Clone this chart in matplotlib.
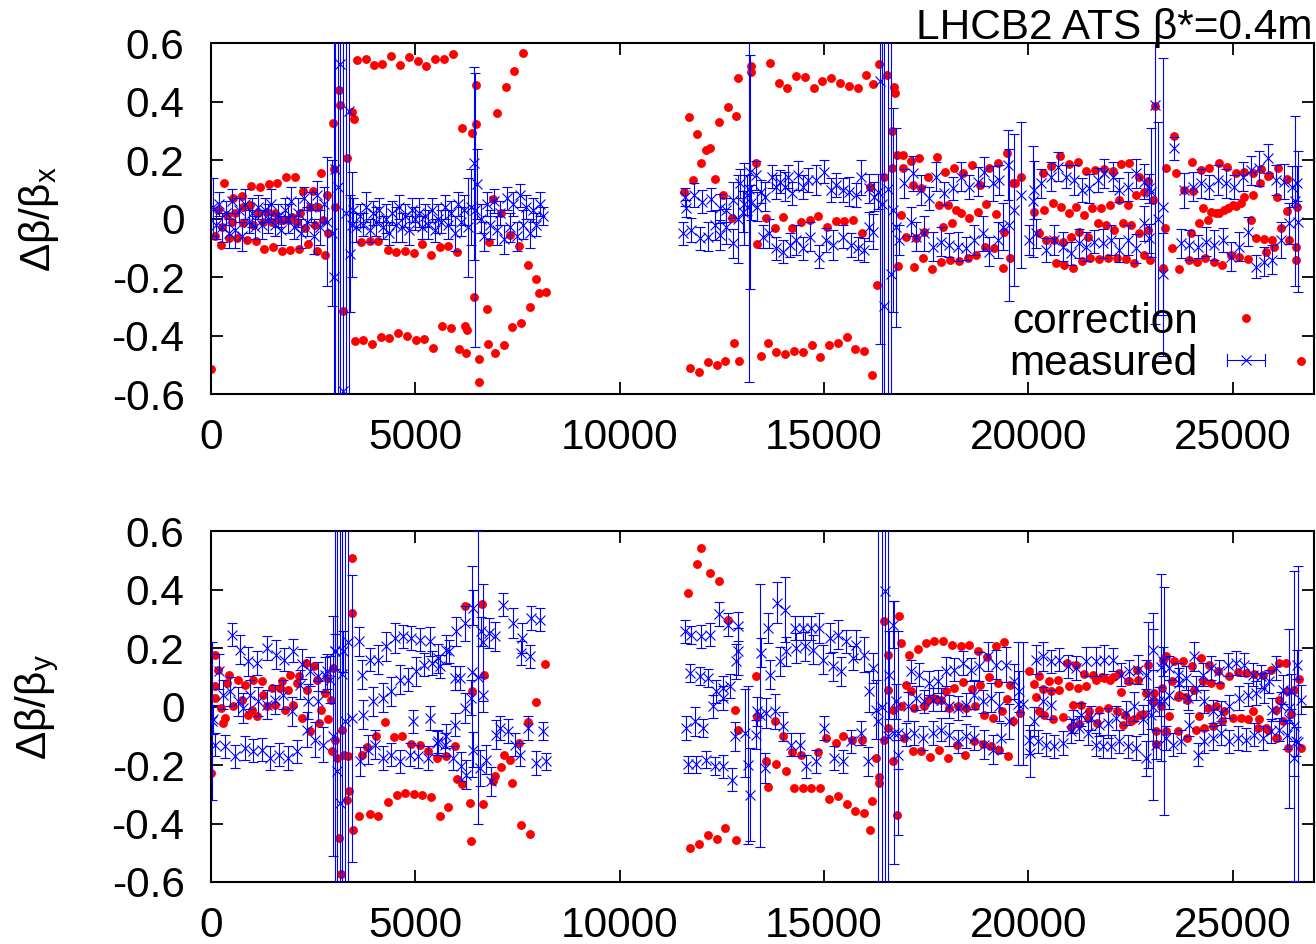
import numpy as np
import matplotlib
matplotlib.use('Agg')
import matplotlib.pyplot as plt
from matplotlib.lines import Line2D
from matplotlib.legend_handler import HandlerBase
from matplotlib.ticker import FuncFormatter

plt.rcParams['font.family'] = ['Liberation Sans', 'DejaVu Sans']
plt.rcParams['mathtext.default'] = 'regular'

# ---------------- horizontal plane: correction (x [m], dbeta/beta) ----------------
top_corr_arc1 = np.array([
    [0, -0.514],
    [326, 0.121], [546, 0.070], [766, 0.078], [978, 0.113], [1198, 0.109], [1410, 0.117],
    [1622, 0.123], [1834, 0.141], [2054, 0.141], [2258, 0.096], [2486, 0.096], [2690, 0.157],
    [98, -0.059], [236, -0.090], [448, -0.067], [628, -0.067], [872, -0.073], [1092, -0.075],
    [1304, -0.104], [1516, -0.098], [1728, -0.109], [1940, -0.108], [2152, -0.104], [2372, -0.087],
    [2584, -0.109], [2795, -0.124],
    [179, 0.030], [383, 0.013], [587, 0.018], [791, 0.041], [954, 0.047], [1157, 0.018],
    [1361, 0.024], [1565, 0.018], [1769, -0.005], [1972, 0.007], [2176, 0.018], [2421, 0.041],
    [2624, 0.041], [2828, 0.081], [3032, 0.041],
    [261, -0.027], [505, -0.010], [791, -0.016], [1035, -0.022], [1280, -0.010], [1483, -0.010],
    [1687, -0.005], [1891, -0.005], [2095, -0.010], [2298, -0.033], [2543, -0.022], [2747, -0.005],
    [2853, -0.050],
    [2991, 0.328], [3138, 0.440], [3154, 0.389], [3007, 0.170], [3317, 0.206], [3439, 0.366],
    [3496, 0.341], [3236, -0.315],
])
top_corr_arc2 = np.array([
    [3562, 0.543], [3782, 0.545], [3985, 0.526], [4197, 0.529], [4417, 0.556], [4629, 0.526],
    [4849, 0.554], [5061, 0.540], [5273, 0.523], [5493, 0.548], [5705, 0.548], [5925, 0.562],
    [3521, -0.417], [3725, -0.415], [3945, -0.429], [4157, -0.404], [4368, -0.409], [4580, -0.392],
    [4792, -0.401], [5012, -0.415], [5224, -0.413], [5444, -0.444], [5656, -0.367], [5868, -0.375],
    [6080, -0.447], [6251, -0.461], [6210, -0.367], [6276, -0.381],
    [3668, -0.079], [3888, -0.076], [4099, -0.075], [4320, -0.107], [4531, -0.113], [4743, -0.111],
    [4963, -0.119], [5175, -0.087], [5387, -0.124], [5599, -0.098], [5811, -0.094], [6023, -0.115],
    [6137, 0.309], [6398, 0.294], [6479, 0.324], [6496, 0.457], [7009, 0.360], [7213, 0.452],
    [7425, 0.506], [7637, 0.568], [6447, -0.268], [6756, -0.308], [6553, -0.481], [6553, -0.558],
    [6781, -0.429], [6952, -0.461], [7164, -0.433], [7376, -0.372], [7596, -0.356], [7800, -0.301],
    [8020, -0.253], [8191, -0.250], [7963, -0.208], [7759, -0.160], [6903, 0.066], [7107, 0.018],
    [7327, -0.056], [7531, -0.092], [6805, -0.081],
])
top_corr_arc3 = np.array([
    [11565, 0.092], [11688, 0.349], [11785, 0.132], [11899, 0.290], [11997, 0.189], [12103, 0.235],
    [12217, 0.241], [12323, 0.135], [12429, 0.330], [12535, 0.081], [12641, 0.381], [12747, 0.001],
    [12837, 0.352], [12886, 0.480], [13220, 0.522], [13220, 0.503], [13326, 0.189], [13358, -0.088],
    [13570, 0.001], [13668, 0.531], [13790, -0.033], [13888, 0.463], [14002, 0.007], [14100, 0.446],
    [14214, -0.033], [14320, 0.488], [14426, -0.010], [14532, 0.486], [14646, -0.005], [14744, 0.446],
    [14858, 0.010], [14956, 0.471], [15070, -0.030], [15176, 0.480], [15282, -0.008], [15388, 0.465],
    [15494, -0.008], [15600, 0.455], [15705, -0.005], [15820, 0.446], [15925, -0.048], [16032, 0.491],
    [16137, 0.109], [16211, 0.460], [16292, -0.227], [16349, 0.529], [16472, 0.144], [16553, 0.491],
    [16667, 0.301], [16724, 0.452], [16749, 0.429], [16789, 0.218], [16659, 0.172], [16822, -0.161],
    [11728, -0.512], [11940, -0.523], [12160, -0.489], [12372, -0.501], [12584, -0.486], [12804, -0.426],
    [12918, -0.487], [13448, -0.470], [13627, -0.426], [13831, -0.455], [14051, -0.464], [14263, -0.452],
    [14475, -0.457], [14695, -0.432], [14907, -0.475], [15119, -0.432], [15339, -0.424], [15551, -0.404],
    [15763, -0.447], [15974, -0.453], [16170, -0.535],
])
top_corr_arc4 = np.array([
    [16927, 0.218], [16927, 0.172], [17131, 0.198], [17335, 0.206], [17759, 0.212], [17971, 0.161],
    [18191, 0.172], [18395, 0.155], [18614, 0.184], [18826, 0.115], [19046, 0.172], [19258, 0.192],
    [19470, 0.226], [19682, 0.121], [19821, 0.141],
    [17172, 0.115], [17376, 0.104], [17539, 0.144], [17824, 0.047], [18028, 0.047], [18232, 0.030],
    [18354, 0.018], [18557, 0.001], [18761, 0.024], [18965, 0.050], [19209, 0.016], [19413, -0.044],
    [19617, 0.121],
    [17009, -0.062], [17213, -0.164], [17433, -0.136], [17645, -0.173], [17865, -0.147], [18085, -0.141],
    [18297, -0.144], [18517, -0.136], [18720, -0.124], [18941, -0.096], [19168, -0.101], [19372, -0.170],
    [19560, -0.136], [18134, -0.014], [17905, -0.027], [17457, -0.044], [17254, -0.067], [16887, 0.013],
    [20350, 0.155], [20554, 0.180], [20774, 0.214], [20986, 0.187], [21206, 0.195], [21410, 0.164],
    [21630, 0.166], [21842, 0.169], [22062, 0.164], [22266, 0.187], [22470, 0.192], [22698, 0.144],
    [22918, 0.130],
    [20147, 0.024], [20391, 0.030], [20595, 0.055], [20799, 0.041], [21003, 0.018], [21166, 0.041],
    [21369, 0.013], [21557, 0.035], [21777, 0.035], [21997, 0.047], [22209, 0.064], [22429, 0.047],
    [22633, 0.081], [22836, 0.092], [23040, 0.064],
    [20269, -0.050], [20432, -0.073], [20636, -0.073], [20839, -0.079], [21043, -0.062], [21247, -0.044],
    [21451, -0.062], [21695, -0.016], [21899, -0.022], [22103, -0.039], [22306, -0.016], [22510, -0.022],
    [22714, -0.050], [22918, -0.039],
    [20676, -0.153], [20880, -0.158], [21084, -0.168], [21312, -0.144], [21516, -0.136], [21736, -0.139],
    [21940, -0.136], [22168, -0.136], [22388, -0.139], [22592, -0.151], [22820, -0.124], [22975, -0.141],
])
top_corr_arc5 = np.array([
    [23105, 0.385], [23285, -0.170], [23366, 0.172], [23333, -0.033], [23513, -0.101], [23570, 0.284],
    [23692, -0.173], [23610, 0.155],
    [24001, 0.195], [24222, 0.166], [24425, 0.172], [24654, 0.189], [24857, 0.178], [25078, 0.157],
    [25282, 0.161], [25485, 0.155], [25689, 0.169], [25893, 0.149], [26121, 0.172], [26325, 0.135],
    [23814, 0.098], [24018, 0.096], [24263, 0.035], [24466, 0.024], [24670, 0.018], [24874, 0.035],
    [25078, 0.043], [25282, 0.075], [25485, 0.081], [25665, 0.123], [25868, 0.146], [26096, 0.075],
    [26341, 0.027], [26585, 0.041],
    [23977, -0.050], [24181, -0.016], [24385, -0.005], [24589, 0.018], [24792, 0.030], [24996, 0.047],
    [25200, 0.052], [25444, -0.005], [25567, -0.067], [25770, -0.071], [25974, -0.073], [26178, -0.033],
    [26382, -0.073], [26545, -0.096],
    [23920, -0.141], [24124, -0.147], [24328, -0.136], [24531, -0.147], [24735, -0.158], [24955, -0.124],
    [25159, -0.132], [25387, -0.138], [25811, -0.113], [26015, -0.096], [26545, -0.141],
    [26667, -0.486],
])

# ---------------- horizontal plane: measured (x, dbeta/beta, error) ----------------
top_meas_arc1 = np.array([
    [40, 0.04, 0.10], [120, -0.02, 0.05], [200, 0.05, 0.04], [280, -0.03, 0.05], [360, 0.02, 0.04],
    [440, -0.05, 0.05], [520, 0.06, 0.04], [600, -0.04, 0.06], [680, 0.03, 0.04], [760, -0.06, 0.05],
    [840, 0.05, 0.05], [920, -0.01, 0.04], [1000, 0.02, 0.05], [1080, -0.03, 0.04], [1160, 0.04, 0.04],
    [1240, -0.02, 0.05], [1320, 0.03, 0.04], [1400, 0.00, 0.05], [1480, 0.05, 0.05], [1560, -0.02, 0.04],
    [1640, 0.01, 0.04], [1720, -0.04, 0.05], [1800, 0.03, 0.04], [1880, 0.00, 0.05], [1960, 0.06, 0.05],
    [2040, -0.03, 0.04], [2120, 0.02, 0.05], [2200, -0.05, 0.05], [2280, 0.07, 0.04], [2360, -0.01, 0.05],
    [2440, 0.04, 0.05], [2520, -0.06, 0.06], [2600, 0.08, 0.05], [2680, -0.03, 0.06], [2760, 0.05, 0.06],
    [2840, -0.01, 0.22],
    [2950, -0.05, 0.25], [3007, -0.20, 0.90], [3032, 0.17, 0.80], [3100, 0.11, 1.00], [3154, 0.53, 1.20],
    [3236, -0.59, 1.20], [3300, 0.02, 1.00], [3382, 0.37, 1.10], [3400, -0.12, 0.20], [3440, -0.02, 0.18],
])
top_meas_arc2 = np.array([
    [3480, 0.03, 0.04], [3560, -0.03, 0.05], [3640, 0.01, 0.04], [3720, -0.02, 0.04], [3800, 0.04, 0.05],
    [3880, -0.04, 0.04], [3960, 0.02, 0.04], [4040, -0.01, 0.05], [4120, 0.03, 0.04], [4200, -0.03, 0.04],
    [4280, 0.00, 0.05], [4360, -0.05, 0.04], [4440, 0.02, 0.04], [4520, -0.02, 0.06], [4600, 0.04, 0.04],
    [4680, -0.03, 0.05], [4760, 0.01, 0.04], [4840, -0.04, 0.05], [4920, 0.03, 0.04], [5000, 0.00, 0.04],
    [5080, 0.02, 0.05], [5160, -0.03, 0.04], [5240, 0.01, 0.04], [5320, -0.02, 0.05], [5400, 0.03, 0.04],
    [5480, -0.04, 0.04], [5560, 0.00, 0.05], [5640, -0.01, 0.04], [5720, 0.04, 0.04], [5800, -0.02, 0.05],
    [5880, 0.02, 0.04], [5960, -0.05, 0.06], [6040, 0.05, 0.04], [6120, -0.01, 0.05], [6200, 0.03, 0.05],
    [6280, -0.03, 0.17], [6360, 0.04, 0.13], [6440, 0.19, 0.33], [6470, 0.03, 0.47], [6520, 0.12, 0.12],
    [6600, 0.00, 0.05], [6680, -0.06, 0.05], [6760, 0.05, 0.04], [6840, -0.02, 0.05], [6920, 0.06, 0.04],
    [7000, -0.04, 0.05], [7080, 0.02, 0.04], [7160, -0.07, 0.05], [7240, 0.07, 0.04], [7320, -0.03, 0.05],
    [7400, 0.05, 0.04], [7480, -0.06, 0.05], [7560, 0.08, 0.04], [7640, -0.02, 0.05], [7720, 0.04, 0.04],
    [7800, -0.05, 0.05], [7880, 0.03, 0.04], [7960, -0.02, 0.04], [8040, 0.05, 0.04], [8120, 0.01, 0.03],
])
top_meas_arc3 = np.array([
    [11590, 0.075, 0.03], [11630, 0.035, 0.03], [11810, 0.081, 0.04], [12013, 0.058, 0.04],
    [12225, 0.066, 0.04], [12445, 0.035, 0.05], [12608, 0.030, 0.04], [12771, 0.064, 0.06],
    [12934, 0.121, 0.05], [13114, 0.081, 0.07], [13220, 0.055, 0.06], [13326, 0.149, 0.05],
    [13464, 0.092, 0.04], [13546, 0.075, 0.05], [13725, 0.144, 0.04], [13815, 0.109, 0.04],
    [13913, 0.127, 0.04], [14035, 0.109, 0.05], [14116, 0.144, 0.04], [14214, 0.087, 0.04],
    [14361, 0.149, 0.05], [14483, 0.109, 0.04], [14605, 0.132, 0.04], [14809, 0.132, 0.05],
    [14996, 0.161, 0.04], [15176, 0.098, 0.04], [15298, 0.115, 0.04], [15461, 0.098, 0.04],
    [15624, 0.092, 0.05], [15787, 0.081, 0.04], [15909, 0.141, 0.06], [16097, 0.104, 0.05],
    [16219, 0.075, 0.05], [16317, 0.092, 0.06],
    [11549, -0.050, 0.04], [11753, -0.039, 0.04], [11957, -0.067, 0.04], [12160, -0.062, 0.05],
    [12323, -0.022, 0.05], [12445, -0.056, 0.05], [12608, -0.027, 0.06], [12771, -0.084, 0.05],
    [12894, 0.000, 0.15], [13016, 0.024, 0.07], [13050, 0.050, 0.14], [13170, 0.100, 0.66],
    [13200, 0.160, 0.40], [13358, 0.041, 0.05], [13505, -0.062, 0.04], [13652, -0.050, 0.05],
    [13831, -0.101, 0.04], [13994, -0.113, 0.04], [14157, -0.090, 0.04], [14320, -0.073, 0.05],
    [14483, -0.101, 0.04], [14646, -0.062, 0.05], [14890, -0.130, 0.04], [15053, -0.073, 0.04],
    [15217, -0.090, 0.05], [15461, -0.062, 0.04], [15665, -0.090, 0.04], [15828, -0.101, 0.04],
    [15990, -0.107, 0.04], [16113, -0.027, 0.05], [16195, -0.044, 0.06],
    [16360, 0.47, 0.90], [16420, 0.05, 1.20], [16480, -0.30, 1.00], [16560, 0.10, 1.30],
    [16640, -0.19, 1.00], [16700, 0.03, 0.35], [16770, -0.03, 0.34],
])
top_meas_arc4 = np.array([
    [16968, 0.121, 0.05], [17172, 0.155, 0.06], [17376, 0.098, 0.05], [17580, 0.070, 0.04],
    [17743, 0.144, 0.05], [17946, 0.087, 0.04], [18150, 0.104, 0.04], [18354, 0.144, 0.05],
    [18557, 0.109, 0.04], [18761, 0.127, 0.05], [18924, 0.161, 0.05], [19128, 0.121, 0.06],
    [19291, 0.132, 0.05], [19495, 0.184, 0.12], [19658, 0.030, 0.26], [19821, 0.080, 0.25],
    [16846, -0.073, 0.05], [17131, -0.010, 0.05], [17254, -0.062, 0.05], [17457, -0.050, 0.06],
    [17661, -0.096, 0.05], [17865, -0.079, 0.05], [18069, -0.090, 0.04], [18272, -0.096, 0.05],
    [18476, -0.101, 0.04], [18680, -0.073, 0.05], [18883, -0.050, 0.06], [19046, -0.113, 0.05],
    [19250, -0.073, 0.06], [19372, -0.027, 0.08], [19535, -0.022, 0.26],
    [20147, 0.098, 0.10], [20310, 0.121, 0.05], [20554, 0.144, 0.05], [20717, 0.178, 0.05],
    [20921, 0.144, 0.04], [21125, 0.132, 0.05], [21312, 0.098, 0.04], [21491, 0.104, 0.05],
    [21695, 0.132, 0.04], [21858, 0.155, 0.05], [22062, 0.144, 0.05], [22225, 0.098, 0.04],
    [22429, 0.109, 0.05], [22633, 0.155, 0.05], [22836, 0.127, 0.06], [22958, 0.104, 0.05],
    [20025, -0.073, 0.05], [20120, 0.060, 0.19], [20188, -0.050, 0.05], [20432, -0.107, 0.04],
    [20636, -0.073, 0.05], [20839, -0.096, 0.05], [21043, -0.119, 0.04], [21247, -0.084, 0.05],
    [21410, -0.096, 0.05], [21614, -0.079, 0.04], [21818, -0.084, 0.05], [22021, -0.073, 0.05],
    [22225, -0.107, 0.04], [22429, -0.073, 0.05], [22633, -0.101, 0.05], [22836, -0.016, 0.06],
    [22958, -0.067, 0.05],
    [22990, 0.09, 0.22], [23105, 0.39, 0.75], [23170, 0.00, 0.33], [23285, -0.19, 0.14],
    [23300, 0.04, 0.51], [23570, 0.241, 0.04],
    [23814, 0.098, 0.06], [24018, 0.109, 0.05], [24222, 0.121, 0.05], [24425, 0.109, 0.04],
    [24629, 0.132, 0.05], [24833, 0.121, 0.05], [25037, 0.109, 0.04], [25241, 0.144, 0.05],
    [25444, 0.166, 0.05], [25648, 0.172, 0.06], [25852, 0.206, 0.05], [26056, 0.132, 0.05],
    [26259, 0.127, 0.06], [26463, 0.109, 0.07], [26585, 0.121, 0.06],
    [23733, -0.084, 0.05], [23936, -0.090, 0.05], [24140, -0.096, 0.04], [24344, -0.079, 0.05],
    [24548, -0.090, 0.05], [24752, -0.073, 0.04], [24955, -0.130, 0.05], [25159, -0.096, 0.05],
    [25363, -0.044, 0.05], [25567, -0.164, 0.04], [25770, -0.147, 0.05], [25974, -0.141, 0.05],
    [26178, -0.073, 0.06], [26382, -0.016, 0.07], [26520, 0.060, 0.29], [26600, -0.010, 0.24],
])

# ---------------- vertical plane: correction ----------------
bot_corr_arc1 = np.array([
    [0, -0.227], [98, 0.178], [179, 0.127], [98, 0.070], [98, 0.030], [236, -0.005], [302, -0.056],
    [342, -0.039], [448, 0.109], [383, 0.081], [546, 0.001], [668, 0.092], [750, 0.024], [831, 0.075],
    [912, -0.027], [994, -0.010], [1035, 0.092], [1133, -0.033], [1239, 0.087], [1280, 0.041],
    [1361, 0.001], [1483, 0.064], [1565, 0.007], [1687, 0.064], [1728, 0.087], [1809, -0.010],
    [1891, 0.058], [1932, 0.109], [2013, 0.007], [2095, 0.081], [2152, 0.104], [2217, -0.039],
    [2323, 0.149], [2356, 0.058], [2421, -0.084], [2527, 0.138], [2584, 0.092], [2641, -0.056],
    [2690, -0.010], [2787, 0.047], [2828, 0.098], [2869, -0.044], [2926, 0.024], [2991, 0.132],
    [3032, -0.113], [2950, -0.153], [3089, -0.176], [3138, -0.449], [3171, -0.571], [3211, -0.079],
    [3252, -0.164], [3358, -0.170], [3382, -0.290], [3333, -0.318], [3439, 0.509], [3439, 0.320],
    [3480, -0.421],
    [3627, -0.375], [3888, -0.366], [4099, -0.375], [4320, -0.327], [4540, -0.303], [4743, -0.295],
    [4963, -0.298], [5175, -0.304], [5379, -0.309], [5599, -0.375], [5811, -0.343], [6373, -0.461],
    [6349, -0.330], [6659, -0.333], [7596, -0.404], [7800, -0.436],
    [3684, -0.164], [3830, -0.139], [4050, -0.101], [4254, -0.052], [4474, -0.104], [4686, -0.101],
    [4906, -0.127], [5110, -0.130], [5314, -0.151], [5534, -0.176], [5762, -0.168], [5974, -0.133],
    [6023, -0.246], [6153, -0.265], [6397, 0.055], [6683, 0.107], [6210, 0.343], [6643, 0.351],
    [6903, -0.255], [6944, -0.238], [7107, -0.208], [7164, -0.164], [7311, -0.181], [7376, -0.261],
    [7539, -0.124], [7759, -0.052], [7963, 0.016], [8183, 0.147],
])
bot_corr_arc2 = np.array([
    [11671, 0.389], [11891, 0.488], [11997, 0.543], [12217, 0.457], [12429, 0.429], [12649, 0.298],
    [12812, -0.010], [12894, -0.079], [13326, 0.104], [13358, -0.036], [13570, -0.187], [13627, -0.276],
    [13790, -0.050], [13831, -0.198], [13994, -0.101], [14059, -0.221], [14222, -0.155], [14263, -0.280],
    [14426, -0.166], [14483, -0.280], [14687, -0.280], [14849, -0.155], [14907, -0.278], [15053, -0.107],
    [15119, -0.315], [15282, -0.124], [15339, -0.307], [15477, -0.101], [15559, -0.333], [15689, -0.115],
    [15763, -0.356], [15925, -0.115], [15982, -0.364], [16129, -0.421], [16170, -0.322], [16276, -0.176],
    [16341, -0.242], [16357, -0.261], [16480, 0.292], [16561, 0.178], [16561, -0.073], [16561, 0.058],
    [16480, -0.113], [16683, -0.010], [16700, -0.187], [16789, -0.372], [16830, 0.309],
    [11728, -0.483], [11940, -0.470], [12160, -0.440], [12372, -0.452], [12584, -0.417], [12837, -0.458],
])
bot_corr_arc3 = np.array([
    [16887, 0.218], [17074, 0.178], [17294, 0.198], [17498, 0.218], [17702, 0.226], [17906, 0.223],
    [18134, 0.210], [18346, 0.206], [18557, 0.210], [18777, 0.189], [18981, 0.169], [19209, 0.206],
    [19413, 0.221],
    [17009, 0.075], [17131, 0.055], [17539, 0.024], [17742, 0.027], [17987, 0.052], [18191, 0.064],
    [18411, 0.084], [18623, 0.062], [18826, 0.075], [19046, 0.100], [19258, 0.081], [19470, 0.027],
    [19560, 0.075],
    [16887, 0.001], [17213, -0.005], [17457, 0.001], [17661, 0.030], [17865, 0.024], [18069, -0.005],
    [18272, 0.001], [18476, -0.005], [18704, 0.001], [18924, -0.027], [19144, -0.039], [19356, -0.016],
    [19617, -0.048], [19797, -0.022],
    [16968, -0.107], [17172, -0.151], [17376, -0.151], [17596, -0.173], [17808, -0.147], [18028, -0.176],
    [18248, -0.132], [18460, -0.164], [18680, -0.119], [18883, -0.128], [19087, -0.136], [19291, -0.147],
    [19495, -0.170],
])
bot_corr_arc4 = np.array([
    [20025, 0.121], [20269, 0.104], [20514, 0.089], [20725, 0.092], [20946, 0.149], [21166, 0.144],
    [21369, 0.112], [21589, 0.109], [21801, 0.100], [22005, 0.092], [22225, 0.115], [22437, 0.087],
    [22649, 0.127], [22918, 0.144], [23285, 0.161], [23366, 0.172], [23570, 0.155], [23773, 0.155],
    [24001, 0.138], [24222, 0.166], [24409, 0.144], [24629, 0.123], [24914, 0.104], [25119, 0.119],
    [25322, 0.115], [25526, 0.112], [25730, 0.109], [25933, 0.127], [26137, 0.149], [26300, 0.149],
    [26626, 0.096],
    [20147, 0.078], [20351, 0.062], [20554, 0.052], [20758, 0.058], [20986, 0.070], [21206, 0.064],
    [21410, 0.070], [21655, 0.092], [21858, 0.098], [22062, 0.100], [22266, 0.050], [22470, 0.089],
    [22673, 0.092], [22877, 0.047], [23081, 0.047], [23268, 0.064], [23513, 0.089], [23676, 0.041],
    [23871, 0.024], [24059, 0.058], [24263, 0.087], [24466, 0.081], [24686, 0.075], [26056, -0.010],
    [26137, 0.024], [26341, 0.052], [26504, 0.058],
    [20188, 0.032], [20253, -0.016], [20391, -0.027], [20611, -0.044], [20839, -0.036], [21084, 0.005],
    [21287, 0.005], [21491, -0.016], [21720, -0.010], [21940, -0.005], [22160, -0.016], [22372, -0.027],
    [22592, -0.044], [22795, -0.025], [23040, 0.018], [23244, 0.001], [23448, -0.033], [23651, 0.032],
    [23855, 0.032], [24165, -0.033], [24385, -0.005], [24589, 0.001], [24792, -0.016], [24996, -0.039],
    [25200, -0.039], [25387, -0.044], [25485, -0.016], [25648, -0.044], [25811, -0.073], [26056, -0.107],
    [26219, -0.050], [26423, -0.025],
    [21043, -0.071], [21247, -0.059], [21467, -0.039], [21670, -0.056], [22306, -0.064], [22510, -0.048],
    [22730, -0.027], [23122, -0.082], [23122, -0.128], [23366, -0.084], [23651, -0.082], [23871, -0.107],
    [24099, -0.079], [24303, -0.073], [24507, -0.067], [24735, -0.050], [25608, -0.073], [25852, -0.079],
    [26096, -0.107], [26365, -0.141], [26667, -0.141],
])

# ---------------- vertical plane: measured ----------------
bot_meas_arc1 = np.array([
    [20, -0.05, 0.27],
    [505, 0.246, 0.04], [709, 0.195, 0.05], [912, 0.155, 0.05], [1133, 0.149, 0.04], [1361, 0.201, 0.04],
    [1589, 0.178, 0.05], [1785, 0.161, 0.04], [1997, 0.192, 0.04], [2217, 0.146, 0.05], [2421, 0.121, 0.05],
    [2624, 0.104, 0.05], [2828, 0.121, 0.06], [3032, 0.189, 0.06], [3220, 0.189, 0.07],
    [98, -0.130, 0.04], [342, -0.136, 0.04], [587, -0.170, 0.04], [831, -0.141, 0.04], [1035, -0.151, 0.04],
    [1239, -0.147, 0.04], [1443, -0.176, 0.04], [1671, -0.164, 0.04], [1891, -0.176, 0.04], [2095, -0.153, 0.04],
    [2339, -0.079, 0.06], [2543, -0.113, 0.06], [2730, -0.130, 0.06],
    [57, -0.044, 0.05], [196, 0.121, 0.06], [302, 0.041, 0.05], [465, 0.052, 0.05], [668, 0.018, 0.05],
    [791, -0.005, 0.05], [954, 0.041, 0.05], [1157, 0.018, 0.05], [1361, 0.007, 0.05], [1565, 0.024, 0.05],
    [1769, 0.041, 0.05], [1972, -0.016, 0.05], [2176, 0.075, 0.05], [2380, 0.018, 0.06], [2624, 0.018, 0.07],
    [2787, 0.109, 0.06], [2910, 0.092, 0.08],
    [2990, -0.10, 0.41], [3030, 0.19, 0.90], [3073, -0.22, 1.00], [3154, -0.33, 1.20], [3211, 0.11, 1.10],
    [3290, -0.05, 1.00], [3358, 0.22, 0.90], [3440, -0.04, 0.49],
])
bot_meas_arc2 = np.array([
    [3627, 0.223, 0.05], [3684, 0.109, 0.05], [3888, 0.161, 0.04], [4091, 0.161, 0.05], [4295, 0.206, 0.05],
    [4499, 0.235, 0.05], [4703, 0.241, 0.04], [4906, 0.235, 0.04], [5110, 0.229, 0.04], [5355, 0.223, 0.05],
    [5558, 0.166, 0.05], [5762, 0.195, 0.05], [6006, 0.258, 0.05], [6210, 0.286, 0.06], [6414, 0.338, 0.06],
    [6618, 0.258, 0.05], [6805, 0.252, 0.05], [6944, 0.241, 0.05], [7148, 0.349, 0.04], [7392, 0.286, 0.05],
    [7620, 0.235, 0.05], [7840, 0.303, 0.04], [8044, 0.298, 0.04], [7596, 0.184, 0.04], [7800, 0.172, 0.04],
    [3725, -0.027, 0.05], [3969, 0.018, 0.05], [4213, 0.030, 0.05], [4417, 0.052, 0.05], [4621, 0.092, 0.05],
    [4825, 0.092, 0.04], [5012, 0.121, 0.05], [5208, 0.144, 0.04], [5420, 0.149, 0.04], [5599, 0.138, 0.04],
    [5827, 0.189, 0.04], [5966, 0.098, 0.04], [6088, 0.098, 0.04], [6210, -0.005, 0.05], [6373, 0.030, 0.06],
    [6659, 0.041, 0.06],
    [3643, -0.187, 0.05], [3847, -0.147, 0.05], [4010, -0.130, 0.05], [4213, -0.176, 0.04], [4417, -0.164, 0.04],
    [4621, -0.187, 0.04], [4865, -0.164, 0.04], [5069, -0.170, 0.04], [5314, -0.176, 0.04], [5534, -0.124, 0.04],
    [5746, -0.101, 0.04], [5966, -0.062, 0.04],
    [4947, -0.050, 0.04], [5355, -0.039, 0.04], [5558, -0.119, 0.04], [5721, -0.130, 0.04], [5925, -0.176, 0.04],
    [6129, -0.204, 0.05], [6251, -0.233, 0.05], [6414, -0.147, 0.06], [6577, -0.210, 0.06], [6740, -0.181, 0.05],
    [6862, -0.255, 0.05], [6985, -0.096, 0.05], [7066, -0.073, 0.04], [7270, -0.084, 0.04], [7433, -0.130, 0.04],
    [7555, -0.164, 0.04], [7759, -0.073, 0.04], [7963, -0.193, 0.04], [8126, -0.084, 0.03], [8207, -0.187, 0.03],
    [6390, 0.12, 0.36], [6540, 0.10, 0.50], [6660, 0.22, 0.20],
])
bot_meas_arc3 = np.array([
    [11590, 0.258, 0.04], [11753, 0.246, 0.03], [11997, 0.241, 0.04], [12217, 0.246, 0.04],
    [12429, 0.317, 0.04], [12649, 0.280, 0.04], [12894, 0.275, 0.05], [12894, 0.189, 0.08],
    [12837, 0.155, 0.06], [11728, 0.115, 0.03], [11957, 0.104, 0.03], [12160, 0.098, 0.03],
    [12364, 0.052, 0.04], [12527, 0.064, 0.04], [12690, 0.070, 0.04], [12282, 0.001, 0.04],
    [12527, 0.030, 0.04], [11614, -0.073, 0.04], [11834, -0.050, 0.05], [12038, -0.073, 0.03],
    [11671, -0.198, 0.03], [11875, -0.198, 0.03], [12103, -0.181, 0.03], [12323, -0.204, 0.03],
    [12527, -0.204, 0.04], [12755, -0.250, 0.04], [12812, -0.101, 0.05], [13179, -0.301, 0.16],
    [13140, -0.200, 0.27], [13057, -0.090, 0.15], [13342, -0.096, 0.05], [13440, -0.030, 0.45],
    [13464, 0.184, 0.05], [13358, -0.016, 0.05], [13546, -0.210, 0.05], [13587, -0.022, 0.05],
    [13627, 0.269, 0.05], [13668, 0.109, 0.05], [13790, -0.016, 0.06], [13847, 0.355, 0.07],
    [13913, 0.155, 0.05], [13994, -0.067, 0.05], [14035, 0.332, 0.11], [14076, 0.189, 0.05],
    [14198, -0.130, 0.04], [14279, 0.269, 0.04], [14320, 0.201, 0.05], [14402, -0.130, 0.04],
    [14483, 0.269, 0.04], [14524, 0.206, 0.05], [14565, -0.204, 0.04], [14687, 0.269, 0.04],
    [14727, 0.195, 0.05], [14809, -0.187, 0.04], [14890, 0.269, 0.05], [14972, 0.161, 0.05],
    [15012, -0.073, 0.04], [15135, 0.235, 0.05], [15217, 0.138, 0.05], [15257, -0.176, 0.04],
    [15339, 0.246, 0.05], [15420, 0.121, 0.05], [15461, -0.187, 0.04], [15542, 0.223, 0.04],
    [15665, -0.119, 0.04], [15705, 0.166, 0.04], [15787, 0.212, 0.05], [15909, -0.090, 0.04],
    [15990, 0.178, 0.06], [16072, -0.187, 0.05], [16113, 0.052, 0.07], [16195, 0.132, 0.05],
    [16276, -0.010, 0.10],
    [16330, -0.05, 0.95], [16420, 0.00, 1.10], [16504, 0.395, 1.00], [16560, -0.10, 1.20],
    [16602, 0.109, 0.15], [16683, 0.280, 0.08], [16720, -0.09, 0.45], [16765, 0.018, 0.06],
    [16800, -0.09, 0.35], [16805, -0.164, 0.05],
])
bot_meas_arc4 = np.array([
    [17131, 0.121, 0.04], [17335, 0.109, 0.04], [17580, 0.081, 0.04], [17783, 0.087, 0.04],
    [17987, 0.121, 0.05], [18191, 0.127, 0.04], [18395, 0.149, 0.04], [18598, 0.127, 0.04],
    [18802, 0.138, 0.05], [19006, 0.172, 0.05], [19209, 0.144, 0.05], [19454, 0.144, 0.06],
    [19658, 0.087, 0.06], [19780, 0.052, 0.07],
    [17050, 0.001, 0.05], [17254, 0.030, 0.04], [17457, 0.018, 0.04], [17661, 0.024, 0.04],
    [17865, 0.024, 0.04], [18069, 0.001, 0.04], [18272, -0.005, 0.04], [18476, 0.007, 0.04],
    [18680, 0.041, 0.05], [18883, 0.018, 0.04], [19087, 0.030, 0.05], [19291, 0.001, 0.05],
    [17009, -0.096, 0.04], [17213, -0.090, 0.04], [17417, -0.107, 0.04], [17661, -0.090, 0.04],
    [17865, -0.079, 0.04], [18069, -0.096, 0.04], [18272, -0.119, 0.04], [18476, -0.101, 0.04],
    [18680, -0.107, 0.04], [18924, -0.130, 0.05], [19128, -0.147, 0.05], [19332, -0.107, 0.05],
    [19535, -0.050, 0.06], [19740, 0.010, 0.21], [19860, 0.010, 0.21],
])
bot_meas_arc5 = np.array([
    [20188, 0.161, 0.05], [20351, 0.172, 0.05], [20554, 0.155, 0.04], [20758, 0.161, 0.04],
    [20962, 0.138, 0.04], [21166, 0.132, 0.04], [21410, 0.155, 0.05], [21655, 0.155, 0.05],
    [21858, 0.161, 0.05], [22062, 0.161, 0.04], [22266, 0.109, 0.04], [22470, 0.121, 0.04],
    [22673, 0.127, 0.05], [22877, 0.109, 0.05], [23040, 0.195, 0.07], [23285, 0.155, 0.05],
    [23448, 0.132, 0.04], [23651, 0.109, 0.04], [23855, 0.098, 0.04], [24059, 0.172, 0.05],
    [24263, 0.109, 0.04], [24466, 0.132, 0.04], [24670, 0.121, 0.04], [24874, 0.144, 0.04],
    [25078, 0.149, 0.04], [25282, 0.144, 0.04], [25485, 0.109, 0.04], [25689, 0.104, 0.04],
    [25893, 0.087, 0.04], [26056, 0.132, 0.04], [26219, 0.058, 0.05], [26423, 0.052, 0.06],
    [26585, 0.144, 0.05], [26667, 0.024, 0.05],
    [20025, -0.113, 0.05], [20229, -0.119, 0.04], [20432, -0.130, 0.04], [20636, -0.136, 0.04],
    [20839, -0.124, 0.04], [21043, -0.084, 0.04], [21247, -0.073, 0.04], [21451, -0.090, 0.04],
    [21655, -0.130, 0.04], [21818, -0.136, 0.04], [22021, -0.136, 0.04], [22225, -0.119, 0.04],
    [22429, -0.136, 0.04], [22633, -0.141, 0.04], [22877, -0.176, 0.06], [23122, -0.130, 0.05],
    [23366, -0.107, 0.04], [23529, -0.130, 0.04], [23733, -0.119, 0.04], [23936, -0.062, 0.04],
    [24140, -0.164, 0.04], [24303, -0.119, 0.04], [24507, -0.107, 0.04], [24711, -0.090, 0.04],
    [24914, -0.119, 0.04], [25119, -0.107, 0.04], [25322, -0.113, 0.04], [25526, -0.096, 0.04],
    [25730, -0.107, 0.04], [25933, -0.084, 0.04], [26137, -0.079, 0.04], [26341, -0.096, 0.05],
    [26504, -0.176, 0.06], [26545, -0.119, 0.05],
    [20147, -0.050, 0.05], [20351, 0.018, 0.05], [20554, 0.007, 0.05], [21084, -0.050, 0.04],
    [21287, -0.027, 0.04], [21532, -0.039, 0.04], [21736, -0.062, 0.04], [21940, -0.056, 0.05],
    [22143, -0.039, 0.04], [22388, -0.022, 0.04], [22592, 0.001, 0.05], [22795, -0.044, 0.05],
    [22999, -0.027, 0.05], [23203, 0.018, 0.05], [23448, 0.041, 0.05], [23692, 0.081, 0.05],
    [23896, 0.030, 0.04], [24099, 0.064, 0.04], [24303, 0.018, 0.04], [24507, -0.016, 0.04],
    [24711, -0.022, 0.04], [24914, 0.001, 0.04], [25159, 0.030, 0.04], [25363, 0.041, 0.04],
    [25567, 0.047, 0.04], [25770, 0.064, 0.05], [25974, -0.010, 0.04], [26178, 0.001, 0.05],
    [26382, -0.005, 0.05],
    [20050, -0.16, 0.08], [22940, 0.04, 0.25], [23050, 0.00, 0.32], [23240, 0.135, 0.32],
    [23325, 0.018, 0.39], [26382, -0.041, 0.305], [26504, -0.067, 0.53], [26590, -0.12, 0.60],
])

top_corr = np.vstack([top_corr_arc1, top_corr_arc2, top_corr_arc3, top_corr_arc4, top_corr_arc5])
top_meas = np.vstack([top_meas_arc1, top_meas_arc2, top_meas_arc3, top_meas_arc4])
bot_corr = np.vstack([bot_corr_arc1, bot_corr_arc2, bot_corr_arc3, bot_corr_arc4])
bot_meas = np.vstack([bot_meas_arc1, bot_meas_arc2, bot_meas_arc3, bot_meas_arc4, bot_meas_arc5])

yticks = [-0.6, -0.4, -0.2, 0.0, 0.2, 0.4, 0.6]
xticks = [0, 5000, 10000, 15000, 20000, 25000]
FS = 30.5
RED = '#ff0000'
BLUE = '#0000ff'


def yfmt(v, pos):
    return '0' if abs(v) < 1e-9 else '%.1f' % v


class ErrKey(HandlerBase):
    # gnuplot-style key for errorbars: |--x--|
    def create_artists(self, legend, orig_handle, xdescent, ydescent, width, height, fontsize, trans):
        y = height / 2 - ydescent
        x0, x1 = -xdescent, -xdescent + width
        c = 4.3
        line = Line2D([x0, x1], [y, y], color=BLUE, lw=0.8, transform=trans)
        caps = Line2D([x0, x0, np.nan, x1, x1], [y - c, y + c, np.nan, y - c, y + c],
                      color=BLUE, lw=0.8, transform=trans)
        mk = Line2D([0.5 * (x0 + x1)], [y], ls='none', marker='x', ms=7.5, mew=0.8,
                    color=BLUE, transform=trans)
        return [line, caps, mk]


def panel(ax, corr, meas, ylabel):
    ax.plot(corr[:, 0], corr[:, 1], 'o', color=RED, ms=6.4, mew=0, zorder=2)
    ax.errorbar(meas[:, 0], meas[:, 1], yerr=meas[:, 2], fmt='x', color=BLUE, ms=7.5, mew=0.8,
                elinewidth=0.8, capsize=3.8, capthick=0.8, zorder=3)
    ax.set_xlim(0, 27000)
    ax.set_ylim(-0.6, 0.6)
    ax.set_xticks(xticks)
    ax.set_yticks(yticks)
    ax.yaxis.set_major_formatter(FuncFormatter(yfmt))
    ax.tick_params(direction='in', length=8.6, width=1.3, top=True, right=True, labelsize=FS)
    ax.tick_params(axis='x', pad=17)
    ax.tick_params(axis='y', pad=19)
    for s in ax.spines.values():
        s.set_linewidth(1.5)
    ax.set_ylabel(ylabel, fontsize=FS)
    ax.yaxis.set_label_coords(-0.136, 0.5)


fig = plt.figure(figsize=(13.16, 9.44), dpi=100)
ax1 = fig.add_axes([0.1603, 0.5826, 0.8385, 0.3715])
ax2 = fig.add_axes([0.1603, 0.0657, 0.8385, 0.3715])

panel(ax1, top_corr, top_meas, r'Δβ/β$_x$')
panel(ax2, bot_corr, bot_meas, r'Δβ/β$_y$')

fig.text(1313 / 1316, 1 - 39 / 944, 'LHCB2 ATS β*=0.4m', ha='right', va='baseline', fontsize=FS)

h_corr = Line2D([], [], ls='none', marker='o', color=RED, ms=6.4, mew=0)
h_meas = Line2D([], [], color=BLUE)
ax1.legend([h_corr, h_meas], ['correction', 'measured'], handler_map={h_meas: ErrKey()},
           loc='lower right', bbox_to_anchor=(0.955, 0.028), frameon=False, markerfirst=False,
           handlelength=0.9, handletextpad=0.68, labelspacing=0.05, fontsize=FS,
           borderaxespad=0, borderpad=0)

fig.savefig('out.png', dpi=100)
